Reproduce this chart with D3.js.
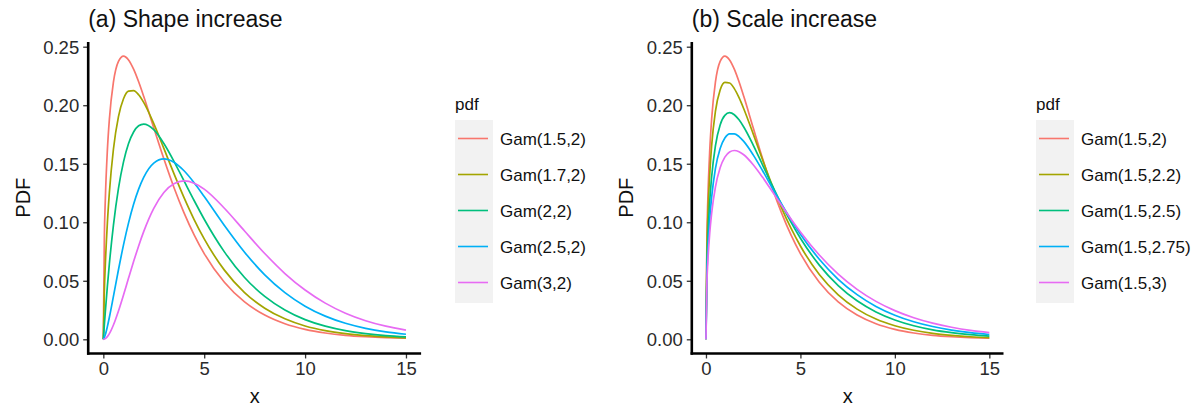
<!DOCTYPE html>
<html>
<head>
<meta charset="utf-8">
<script src="https://cdn.jsdelivr.net/npm/d3@7"></script>
<style>
  html, body { margin: 0; padding: 0; background: #ffffff; }
  svg { display: block; font-family: "Liberation Sans", Arial, sans-serif; }
</style>
</head>
<body>
<svg id="chart" width="1198" height="407"></svg>
<script>
// Evaluation grid shared by every density curve
const xs = [0, 0.05, 0.1, 0.2, 0.3, 0.5, 0.75, 1, 1.25, 1.5, 1.75, 2, 2.5, 3, 3.5, 4, 4.5, 5, 6, 7, 8, 9, 10, 11, 12, 13, 14, 15];

// Gamma densities, shape varies (scale 2)
const gam15_2  = [0, 0.0870, 0.1200, 0.1614, 0.1881, 0.2197, 0.2375, 0.2420, 0.2387, 0.2308, 0.2200, 0.2076, 0.1807, 0.1542, 0.1297, 0.1080, 0.0892, 0.0732, 0.0487, 0.0319, 0.0207, 0.0133, 0.0085, 0.0054, 0.0034, 0.0022, 0.0014, 0.0009];
const gam17_2  = [0, 0.0406, 0.0643, 0.0993, 0.1255, 0.1624, 0.1903, 0.2055, 0.2120, 0.2125, 0.2089, 0.2024, 0.1843, 0.1631, 0.1415, 0.1210, 0.1023, 0.0858, 0.0591, 0.0399, 0.0266, 0.0175, 0.0114, 0.0074, 0.0048, 0.0031, 0.0020, 0.0012];
const gam2_2   = [0, 0.0122, 0.0238, 0.0452, 0.0646, 0.0974, 0.1289, 0.1516, 0.1673, 0.1771, 0.1824, 0.1839, 0.1791, 0.1673, 0.1521, 0.1353, 0.1186, 0.1026, 0.0747, 0.0528, 0.0366, 0.0250, 0.0168, 0.0112, 0.0074, 0.0049, 0.0032, 0.0021];
const gam25_2  = [0, 0.0015, 0.0040, 0.0108, 0.0188, 0.0366, 0.0594, 0.0807, 0.0995, 0.1154, 0.1283, 0.1384, 0.1506, 0.1542, 0.1513, 0.1440, 0.1338, 0.1220, 0.0973, 0.0744, 0.0551, 0.0399, 0.0283, 0.0198, 0.0137, 0.0094, 0.0064, 0.0043];
const gam3_2   = [0, 0.0002, 0.0006, 0.0023, 0.0048, 0.0122, 0.0242, 0.0379, 0.0523, 0.0664, 0.0798, 0.0920, 0.1119, 0.1255, 0.1330, 0.1353, 0.1334, 0.1283, 0.1120, 0.0925, 0.0733, 0.0562, 0.0421, 0.0309, 0.0223, 0.0159, 0.0112, 0.0078];

// Gamma densities, scale varies (shape 1.5)
const gam15_22  = [0, 0.0756, 0.1045, 0.1412, 0.1653, 0.1948, 0.2130, 0.2195, 0.2190, 0.2142, 0.2065, 0.1970, 0.1755, 0.1532, 0.1318, 0.1123, 0.0949, 0.0797, 0.0554, 0.0380, 0.0258, 0.0173, 0.0116, 0.0077, 0.0051, 0.0034, 0.0022, 0.0015];
const gam15_25  = [0, 0.0626, 0.0867, 0.1178, 0.1387, 0.1653, 0.1831, 0.1913, 0.1936, 0.1919, 0.1875, 0.1814, 0.1660, 0.1489, 0.1317, 0.1153, 0.1001, 0.0864, 0.0634, 0.0459, 0.0329, 0.0234, 0.0165, 0.0116, 0.0081, 0.0057, 0.0040, 0.0027];
const gam15_275 = [0, 0.0543, 0.0755, 0.1029, 0.1215, 0.1459, 0.1631, 0.1720, 0.1756, 0.1756, 0.1732, 0.1691, 0.1576, 0.1440, 0.1296, 0.1156, 0.1022, 0.0898, 0.0684, 0.0513, 0.0382, 0.0281, 0.0206, 0.0150, 0.0109, 0.0079, 0.0057, 0.0041];
const gam15_3   = [0, 0.0478, 0.0664, 0.0909, 0.1076, 0.1300, 0.1465, 0.1556, 0.1601, 0.1613, 0.1603, 0.1577, 0.1492, 0.1384, 0.1265, 0.1145, 0.1028, 0.0917, 0.0720, 0.0557, 0.0427, 0.0324, 0.0245, 0.0184, 0.0138, 0.0103, 0.0076, 0.0057];

const shapeLabels = ["Gam(1.5,2)", "Gam(1.7,2)", "Gam(2,2)", "Gam(2.5,2)", "Gam(3,2)"];
const scaleLabels = ["Gam(1.5,2)", "Gam(1.5,2.2)", "Gam(1.5,2.5)", "Gam(1.5,2.75)", "Gam(1.5,3)"];
const shapeSeries = [gam15_2, gam17_2, gam2_2, gam25_2, gam3_2];
const scaleSeries = [gam15_2, gam15_22, gam15_25, gam15_275, gam15_3];

const xTicks = [0, 5, 10, 15];
const yTicks = [0, 0.05, 0.10, 0.15, 0.20, 0.25];
const palette = ["#F8766D", "#A3A500", "#00BF7D", "#00B0F6", "#E76BF3"];

const svg = d3.select("#chart");
const FONT_TICK = 18.5;

function drawPanel(opt) {
  const g = svg.append("g");
  const x = d3.scaleLinear().domain([-0.75, 15.75]).range([opt.left, opt.right]);
  const y = d3.scaleLinear().domain([0, 0.25]).range([339.3, 46.7]);
  const yLo = y(-0.0121), yHi = y(0.2541);

  // curves
  const line = d3.line()
    .x(d => x(d[0]))
    .y(d => y(d[1]))
    .curve(d3.curveMonotoneX);
  opt.series.forEach((vals, i) => {
    g.append("path")
      .datum(xs.map((v, j) => [v, vals[j]]))
      .attr("fill", "none")
      .attr("stroke", palette[i])
      .attr("stroke-width", 1.7)
      .attr("stroke-linejoin", "round")
      .attr("d", line);
  });

  // axes
  const ax = g.append("g").attr("transform", `translate(0,${yLo})`)
    .call(d3.axisBottom(x).tickValues(xTicks).tickFormat(d3.format("d")).tickSize(5).tickPadding(3));
  const ay = g.append("g").attr("transform", `translate(${opt.left},0)`)
    .call(d3.axisLeft(y).tickValues(yTicks).tickFormat(d3.format(".2f")).tickSize(5).tickPadding(4));
  [ax, ay].forEach(a => {
    a.select(".domain").remove();
    a.selectAll(".tick line").attr("stroke", "#333333").attr("stroke-width", 1.3);
    a.selectAll(".tick text").attr("fill", "#2a2a2a").style("font-size", FONT_TICK + "px")
      .style("font-family", '"Liberation Sans", Arial, sans-serif');
  });
  ay.selectAll(".tick text").attr("dy", "0.36em");

  // axis lines
  g.append("line").attr("x1", opt.left).attr("x2", opt.left).attr("y1", yHi).attr("y2", yLo + 1.2)
    .attr("stroke", "#000").attr("stroke-width", 2.6);
  g.append("line").attr("x1", opt.left - 1.2).attr("x2", opt.right).attr("y1", yLo).attr("y2", yLo)
    .attr("stroke", "#000").attr("stroke-width", 2.6);

  // titles
  g.append("text").attr("x", opt.left).attr("y", 27)
    .style("font-size", "23px").attr("fill", "#111").text(opt.title);
  g.append("text").attr("x", (opt.left + opt.right) / 2).attr("y", 403)
    .attr("text-anchor", "middle").style("font-size", "20px").attr("fill", "#111").text("x");
  g.append("text").attr("transform", `translate(${opt.ylabX},${(yHi + yLo) / 2}) rotate(-90)`)
    .attr("text-anchor", "middle").style("font-size", "20px").attr("fill", "#111").text("PDF");

  // legend
  const lg = g.append("g");
  lg.append("text").attr("x", opt.legX).attr("y", 110).style("font-size", "17px").attr("fill", "#111").text("pdf");
  lg.append("rect").attr("x", opt.legX).attr("y", 120).attr("width", 38).attr("height", 183).attr("fill", "#F2F2F2");
  const keyY = d3.scalePoint().domain(opt.labels).range([138.5, 282.5]);
  opt.labels.forEach((lab, i) => {
    lg.append("line").attr("x1", opt.legX + 3).attr("x2", opt.legX + 33)
      .attr("y1", keyY(lab)).attr("y2", keyY(lab))
      .attr("stroke", palette[i]).attr("stroke-width", 1.6);
    lg.append("text").attr("x", opt.legX + 45).attr("y", keyY(lab) + 6)
      .style("font-size", "17px").attr("fill", "#111").text(lab);
  });
}

drawPanel({ left: 88.2, right: 421.1, title: "(a) Shape increase", series: shapeSeries,
  labels: shapeLabels, legX: 455, ylabX: 30 });
drawPanel({ left: 691.8, right: 1003.5, title: "(b) Scale increase", series: scaleSeries,
  labels: scaleLabels, legX: 1036, ylabX: 633 });
</script>
</body>
</html>
